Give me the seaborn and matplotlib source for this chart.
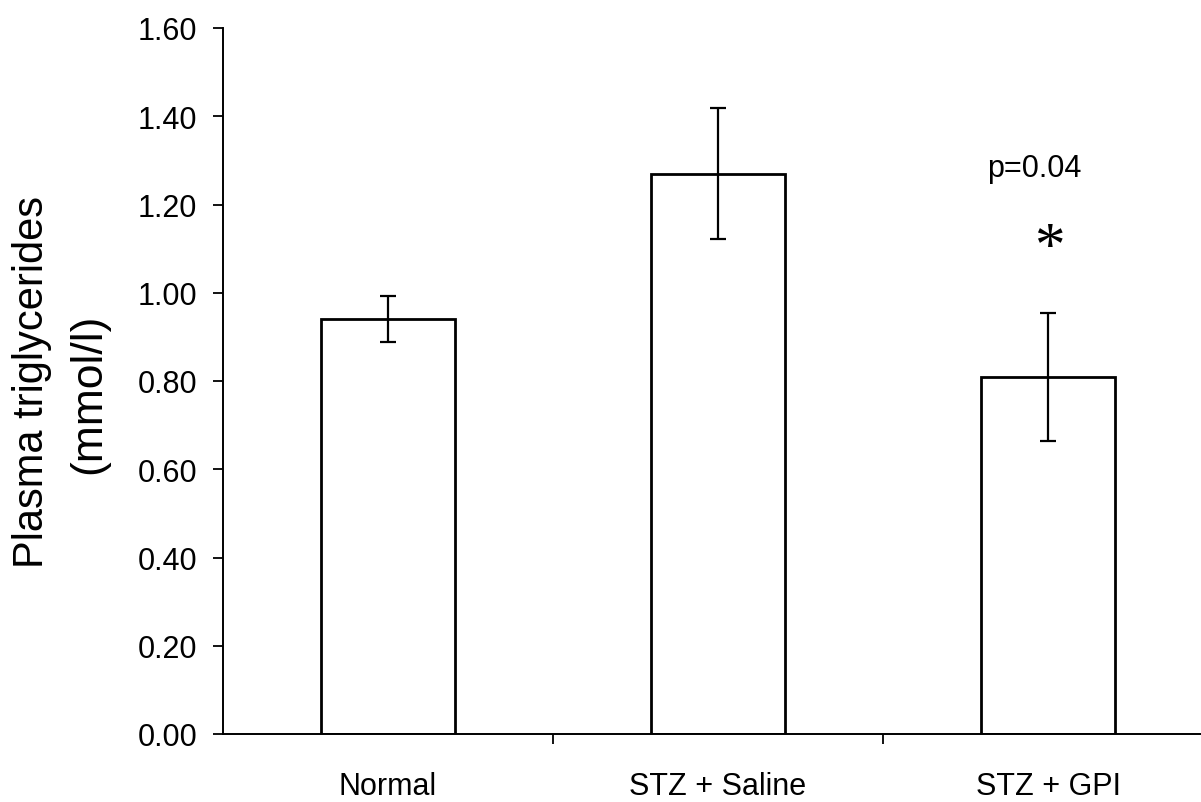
import matplotlib
matplotlib.use("Agg")
import matplotlib.pyplot as plt
import seaborn as sns
import pandas as pd
import numpy as np

groups = ["Normal", "STZ + Saline", "STZ + GPI"]
means = [0.94, 1.27, 0.81]
errors = [0.052, 0.148, 0.145]
y_ticks = [0.0, 0.2, 0.4, 0.6, 0.8, 1.0, 1.2, 1.4, 1.6]
ylabel_line1 = "Plasma triglycerides"
ylabel_line2 = "(mmol/l)"
annot_text = "p=0.04"
star_text = "*"

sns.set_theme(style="white", rc={"axes.labelcolor": "black", "xtick.color": "black",
                                 "ytick.color": "black", "text.color": "black"})
plt.rcParams["font.family"] = ["Liberation Sans", "DejaVu Sans"]

df = pd.DataFrame({"group": groups, "mean": means})

W, H = 1201, 803
fig = plt.figure(figsize=(W / 100, H / 100), dpi=100)
ax_left, ax_bottom = 223, 735
ax_top = 29
cat_w = 330
ax = fig.add_axes([ax_left / W, (H - ax_bottom) / H, 3 * cat_w / W, (ax_bottom - ax_top) / H])

sns.barplot(data=df, x="group", y="mean", order=groups, color="white",
            edgecolor="black", linewidth=2.0, width=0.405, errorbar=None,
            saturation=1, ax=ax)
for p in ax.patches:
    p.set_facecolor("white")
    p.set_edgecolor("black")

xs = np.arange(len(groups))
ax.errorbar(xs, means, yerr=errors, fmt="none", ecolor="black",
            elinewidth=1.6, capsize=5.8, capthick=1.6, zorder=5)

ax.set_xlim(-0.5, 2.5)
ax.set_ylim(0, 1.6)
ax.set_yticks(y_ticks)
ax.set_yticklabels([f"{v:.2f}" for v in y_ticks])
ax.set_xticks(xs)
ax.set_xticklabels(groups)
ax.set_xticks([0.5, 1.5], minor=True)
ax.tick_params(axis="x", which="major", length=0, pad=27, labelsize=22)
ax.tick_params(axis="x", which="minor", length=7, width=1.3, direction="out",
               color="black", bottom=True)
ax.tick_params(axis="y", which="major", length=7.2, width=1.3, direction="out",
               color="black", left=True, pad=11.5, labelsize=22)

for side in ["top", "right"]:
    ax.spines[side].set_visible(False)
for side in ["left", "bottom"]:
    ax.spines[side].set_visible(True)
    ax.spines[side].set_color("black")
    ax.spines[side].set_linewidth(1.4)

ax.set_xlabel("")
ax.set_ylabel("")
fig.text(43 / W, 1 - 382 / H, ylabel_line1, fontsize=30, rotation=90,
         rotation_mode="anchor", ha="center", va="baseline", color="black")
fig.text(100 / W, 1 - 394 / H, ylabel_line2, fontsize=32, rotation=90,
         rotation_mode="anchor", ha="center", va="baseline", color="black")

ax.text(1.957, 1.283, annot_text, fontsize=22, ha="center", va="center", color="black")
ax.text(2.003, 1.10, star_text, fontsize=44, ha="center", va="center", color="black",
        family=["Liberation Serif", "DejaVu Serif"])

ax.set_facecolor("white")
fig.patch.set_facecolor("white")
fig.savefig("out.png", dpi=100)
